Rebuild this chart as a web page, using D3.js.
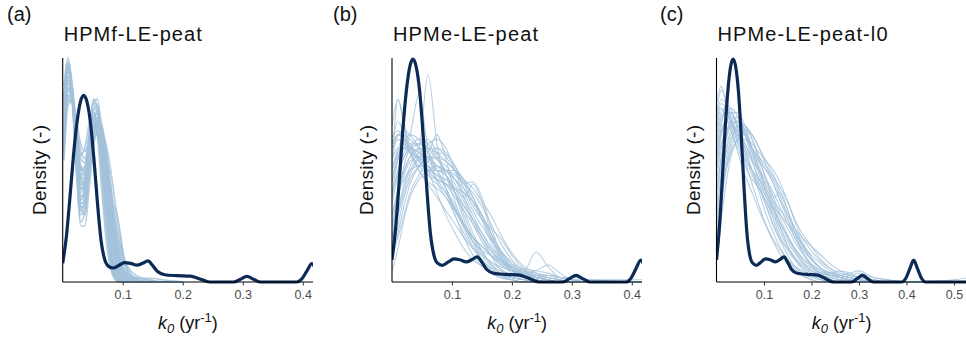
<!DOCTYPE html>
<html>
<head>
<meta charset="utf-8">
<script src="https://cdn.jsdelivr.net/npm/d3@7"></script>
<style>
  body { margin: 0; background: #fff; }
  text { font-family: "Liberation Sans", Arial, Helvetica, sans-serif; }
</style>
</head>
<body>
<div id="chart"></div>
<script>
// ---------------- data ----------------
const panelTags = ["(a)", "(b)", "(c)"];
const panelTitles = ["HPMf-LE-peat", "HPMe-LE-peat", "HPMe-LE-peat-l0"];
const xTicksAB = [0.1, 0.2, 0.3, 0.4];
const xTicksC = [0.1, 0.2, 0.3, 0.4, 0.5];

// reference density (thick dark line), same in every panel
const darkK = [0, 0.006, 0.012, 0.018, 0.024, 0.03, 0.035, 0.04, 0.046, 0.052, 0.058, 0.064, 0.07, 0.076, 0.084, 0.094, 0.103, 0.113, 0.124, 0.133, 0.142, 0.15, 0.158, 0.17, 0.19, 0.213, 0.225, 0.235, 0.245, 0.285, 0.296, 0.307, 0.318, 0.33, 0.39, 0.398, 0.407, 0.415, 0.423, 0.432, 0.44, 0.53];
const darkD = [0.1, 0.24, 0.45, 0.68, 0.86, 0.97, 1.0, 0.97, 0.86, 0.66, 0.42, 0.22, 0.12, 0.085, 0.075, 0.09, 0.104, 0.1, 0.09, 0.1, 0.113, 0.088, 0.056, 0.039, 0.034, 0.031, 0.02, 0.009, 0, 0, 0.015, 0.03, 0.015, 0, 0, 0.015, 0.06, 0.098, 0.06, 0.015, 0, 0];

// (a) light curves
const kGridA = [0.002, 0.009, 0.016, 0.023, 0.03, 0.037, 0.044, 0.051, 0.058, 0.065, 0.072, 0.079, 0.086, 0.094, 0.103, 0.113, 0.125, 0.145, 0.17, 0.2];
const lightA = [
  [0.95,1.18,1.05,0.7,0.42,0.45,0.7,0.88,0.78,0.5,0.24,0.08,0.02,0,0,0,0,0,0,0],
  [0.85,1.1,1.0,0.72,0.5,0.56,0.8,0.95,0.9,0.72,0.46,0.22,0.08,0.02,0,0,0,0,0,0],
  [1.0,1.16,0.98,0.6,0.32,0.38,0.62,0.8,0.82,0.74,0.56,0.34,0.16,0.05,0.01,0,0,0,0,0],
  [0.75,1.02,0.98,0.78,0.6,0.62,0.78,0.9,0.84,0.62,0.36,0.16,0.05,0.01,0,0,0,0,0,0],
  [0.9,1.12,1.02,0.74,0.5,0.5,0.66,0.8,0.82,0.76,0.6,0.4,0.2,0.08,0.02,0,0,0,0,0],
  [0.7,0.98,0.95,0.8,0.68,0.72,0.85,0.92,0.8,0.56,0.3,0.12,0.03,0,0,0,0,0,0,0],
  [1.05,1.2,1.0,0.62,0.36,0.4,0.66,0.86,0.88,0.76,0.54,0.3,0.12,0.03,0,0,0,0,0,0],
  [0.8,1.06,1.0,0.76,0.55,0.56,0.72,0.86,0.84,0.72,0.56,0.42,0.26,0.12,0.04,0.01,0,0,0,0],
  [0.92,1.14,1.03,0.68,0.4,0.36,0.55,0.74,0.8,0.78,0.66,0.46,0.24,0.1,0.03,0.01,0,0,0,0],
  [0.65,0.95,0.97,0.84,0.7,0.66,0.75,0.88,0.9,0.76,0.5,0.26,0.1,0.03,0,0,0,0,0,0],
  [0.98,1.15,0.96,0.58,0.3,0.3,0.5,0.72,0.8,0.78,0.64,0.44,0.22,0.08,0.02,0,0,0,0,0],
  [0.82,1.08,1.04,0.8,0.58,0.52,0.62,0.78,0.82,0.72,0.52,0.32,0.18,0.1,0.05,0.02,0.01,0,0,0],
  [0.88,1.1,0.98,0.66,0.44,0.48,0.7,0.92,0.94,0.74,0.44,0.18,0.05,0.01,0,0,0,0,0,0],
  [0.72,1.0,1.0,0.82,0.62,0.58,0.7,0.84,0.84,0.74,0.6,0.45,0.3,0.16,0.06,0.02,0.01,0,0,0],
  [1.0,1.17,1.0,0.64,0.38,0.44,0.72,0.96,0.94,0.7,0.38,0.14,0.03,0,0,0,0,0,0,0],
  [0.86,1.1,1.0,0.7,0.46,0.46,0.62,0.8,0.86,0.82,0.66,0.44,0.24,0.09,0.02,0,0,0,0,0],
  [0.78,1.04,0.99,0.77,0.56,0.6,0.76,0.86,0.8,0.66,0.5,0.38,0.28,0.18,0.09,0.04,0.02,0.01,0,0],
  [0.94,1.13,1.01,0.7,0.46,0.5,0.74,0.96,0.98,0.8,0.5,0.22,0.07,0.01,0,0,0,0,0,0],
  [0.68,0.97,0.98,0.86,0.74,0.7,0.76,0.82,0.78,0.66,0.52,0.36,0.22,0.12,0.06,0.03,0.02,0.02,0.01,0],
  [0.9,1.12,1.0,0.66,0.4,0.42,0.64,0.84,0.88,0.8,0.6,0.36,0.16,0.05,0.01,0,0,0,0,0],
  [0.96,1.16,1.02,0.68,0.44,0.5,0.72,0.9,0.86,0.66,0.42,0.2,0.07,0.02,0,0,0,0,0,0],
  [0.84,1.08,1.0,0.74,0.52,0.54,0.7,0.84,0.84,0.72,0.5,0.36,0.4,0.3,0.1,0.02,0,0,0,0],
  [0.76,1.03,1.0,0.8,0.6,0.6,0.74,0.88,0.9,0.8,0.62,0.42,0.22,0.08,0.02,0,0,0,0,0],
  [0.98,1.17,1.02,0.66,0.4,0.42,0.64,0.86,0.92,0.84,0.64,0.38,0.16,0.04,0,0,0,0,0,0],
  [0.88,1.1,1.0,0.72,0.5,0.52,0.68,0.82,0.84,0.78,0.66,0.5,0.32,0.14,0.04,0.01,0,0,0,0],
  [0.7,0.99,0.97,0.82,0.66,0.64,0.74,0.86,0.86,0.76,0.58,0.36,0.16,0.05,0.01,0,0,0,0,0],
  [0.92,1.14,1.02,0.7,0.48,0.54,0.78,0.98,0.94,0.7,0.4,0.16,0.04,0.01,0,0,0,0,0,0],
  [0.8,1.06,1.0,0.76,0.54,0.52,0.64,0.78,0.84,0.82,0.7,0.5,0.28,0.1,0.03,0.01,0,0,0,0],
  [0.86,1.08,0.98,0.72,0.5,0.5,0.62,0.76,0.8,0.8,0.74,0.62,0.46,0.28,0.12,0.04,0.01,0,0,0],
  [0.74,1.0,0.98,0.8,0.62,0.6,0.7,0.8,0.82,0.78,0.68,0.54,0.38,0.22,0.1,0.04,0.01,0,0,0],
  [0.94,1.14,1.0,0.66,0.42,0.44,0.62,0.8,0.86,0.84,0.72,0.54,0.34,0.16,0.05,0.01,0,0,0,0],
  [0.8,1.04,0.98,0.76,0.58,0.58,0.7,0.82,0.8,0.7,0.58,0.46,0.34,0.22,0.12,0.06,0.03,0.01,0,0]
];

// (b) light curves
const kGridB = [0, 0.01, 0.02, 0.03, 0.045, 0.06, 0.075, 0.09, 0.105, 0.12, 0.135, 0.15, 0.165, 0.18, 0.2, 0.22, 0.24, 0.26, 0.28, 0.3, 0.33, 0.36, 0.4, 0.417];
const lightB = [
  [0.55,0.66,0.68,0.66,0.6,0.5,0.4,0.3,0.22,0.15,0.1,0.07,0.05,0.03,0.02,0.01,0,0,0,0,0,0,0,0],
  [0.4,0.55,0.63,0.66,0.64,0.58,0.5,0.42,0.33,0.24,0.16,0.1,0.06,0.03,0.01,0,0,0,0,0,0,0,0,0],
  [0.7,0.82,0.72,0.6,0.5,0.45,0.42,0.38,0.3,0.2,0.12,0.07,0.04,0.02,0.01,0,0,0,0,0,0,0,0,0],
  [0.2,0.38,0.52,0.6,0.64,0.62,0.56,0.48,0.4,0.34,0.28,0.2,0.12,0.06,0.02,0.01,0,0,0,0,0,0,0,0],
  [0.25,0.4,0.5,0.56,0.6,0.93,0.62,0.42,0.3,0.22,0.15,0.1,0.06,0.03,0.01,0,0,0,0,0,0,0,0,0],
  [0.5,0.82,0.7,0.6,0.62,0.64,0.58,0.48,0.36,0.26,0.18,0.12,0.07,0.04,0.02,0.01,0,0,0,0,0,0,0,0],
  [0.45,0.55,0.6,0.66,0.84,0.6,0.45,0.38,0.32,0.26,0.2,0.14,0.08,0.04,0.02,0.01,0,0,0,0,0,0,0,0],
  [0.1,0.25,0.38,0.46,0.52,0.56,0.6,0.58,0.52,0.44,0.45,0.38,0.25,0.14,0.06,0.02,0.01,0,0,0,0,0,0,0],
  [0.6,0.64,0.62,0.58,0.56,0.58,0.66,0.55,0.4,0.28,0.18,0.1,0.05,0.02,0.01,0,0,0,0,0,0,0,0,0],
  [0.35,0.48,0.56,0.6,0.58,0.52,0.48,0.46,0.42,0.38,0.44,0.36,0.22,0.12,0.05,0.02,0.01,0,0,0,0,0,0,0],
  [0.15,0.3,0.42,0.5,0.55,0.55,0.52,0.5,0.46,0.4,0.32,0.25,0.19,0.14,0.09,0.05,0.03,0.02,0.01,0,0,0,0,0],
  [0.5,0.6,0.64,0.62,0.55,0.48,0.44,0.4,0.33,0.25,0.18,0.14,0.12,0.1,0.07,0.05,0.135,0.07,0.02,0.01,0,0,0,0],
  [0.45,0.58,0.62,0.6,0.54,0.5,0.5,0.48,0.4,0.3,0.2,0.13,0.09,0.07,0.05,0.04,0.05,0.076,0.04,0.01,0,0,0,0],
  [0.05,0.15,0.28,0.38,0.46,0.5,0.52,0.5,0.46,0.42,0.36,0.3,0.22,0.15,0.08,0.04,0.02,0.01,0,0,0,0,0,0],
  [0.62,0.72,0.66,0.58,0.5,0.44,0.38,0.32,0.26,0.2,0.15,0.12,0.09,0.06,0.03,0.02,0.01,0,0,0,0,0,0,0],
  [0.3,0.42,0.5,0.56,0.6,0.6,0.58,0.54,0.5,0.44,0.36,0.28,0.2,0.13,0.07,0.04,0.02,0.01,0,0,0,0,0,0],
  [0.4,0.5,0.56,0.6,0.62,0.6,0.55,0.5,0.44,0.36,0.26,0.18,0.12,0.09,0.06,0.04,0.03,0.03,0.02,0.01,0.01,0.005,0,0],
  [0.25,0.38,0.48,0.54,0.56,0.54,0.5,0.48,0.42,0.34,0.28,0.22,0.16,0.11,0.07,0.05,0.04,0.03,0.02,0.02,0.01,0.01,0.01,0.01],
  [0.55,0.6,0.6,0.58,0.56,0.52,0.46,0.4,0.32,0.25,0.2,0.16,0.12,0.08,0.05,0.03,0.02,0.01,0,0,0,0,0,0],
  [0.2,0.32,0.44,0.52,0.58,0.62,0.64,0.6,0.5,0.38,0.28,0.2,0.14,0.1,0.06,0.03,0.01,0,0,0,0,0,0,0],
  [0.65,0.68,0.64,0.58,0.52,0.48,0.46,0.44,0.4,0.32,0.22,0.14,0.08,0.05,0.03,0.02,0.01,0,0,0,0,0,0,0],
  [0.1,0.2,0.3,0.4,0.48,0.54,0.58,0.57,0.52,0.45,0.38,0.3,0.2,0.12,0.06,0.03,0.02,0.01,0,0,0,0,0,0],
  [0.3,0.4,0.46,0.5,0.52,0.52,0.5,0.5,0.48,0.44,0.4,0.34,0.26,0.18,0.1,0.05,0.02,0.01,0,0,0,0,0,0],
  [0.5,0.58,0.6,0.6,0.58,0.56,0.55,0.52,0.46,0.38,0.3,0.22,0.15,0.1,0.05,0.02,0.01,0,0,0,0,0,0,0],
  [0.2,0.3,0.4,0.48,0.56,0.6,0.6,0.56,0.5,0.42,0.34,0.28,0.24,0.2,0.12,0.06,0.03,0.01,0,0,0,0,0,0],
  [0.6,0.66,0.66,0.64,0.6,0.56,0.5,0.44,0.38,0.32,0.26,0.2,0.14,0.09,0.05,0.03,0.02,0.01,0,0,0,0,0,0],
  [0.38,0.5,0.58,0.62,0.62,0.58,0.52,0.5,0.5,0.46,0.38,0.28,0.18,0.11,0.06,0.04,0.03,0.02,0.01,0,0,0,0,0],
  [0.12,0.22,0.34,0.44,0.52,0.56,0.56,0.54,0.5,0.46,0.42,0.36,0.3,0.22,0.13,0.07,0.04,0.02,0.01,0,0,0,0,0],
  [0.45,0.56,0.6,0.6,0.56,0.5,0.46,0.44,0.42,0.4,0.36,0.3,0.22,0.14,0.08,0.06,0.05,0.04,0.02,0.01,0,0,0,0],
  [0.62,0.66,0.64,0.6,0.54,0.5,0.48,0.42,0.34,0.26,0.2,0.16,0.12,0.08,0.04,0.02,0.01,0,0,0,0,0,0,0]
];

// (c) light curves
const kGridC = [0, 0.01, 0.02, 0.03, 0.045, 0.06, 0.075, 0.09, 0.105, 0.12, 0.135, 0.15, 0.165, 0.18, 0.2, 0.22, 0.24, 0.26, 0.28, 0.3, 0.33, 0.36, 0.4, 0.45, 0.5, 0.53];
const lightC = [
  [0.75,0.86,0.82,0.74,0.64,0.54,0.44,0.34,0.25,0.18,0.12,0.08,0.05,0.03,0.01,0,0,0,0,0,0,0,0,0,0,0],
  [0.6,0.72,0.76,0.76,0.7,0.6,0.5,0.4,0.3,0.22,0.15,0.1,0.06,0.03,0.01,0,0,0,0,0,0,0,0,0,0,0],
  [0.5,0.66,0.74,0.78,0.74,0.66,0.55,0.44,0.34,0.25,0.18,0.12,0.07,0.04,0.02,0.01,0,0,0,0,0,0,0,0,0,0],
  [0.3,0.48,0.6,0.68,0.72,0.68,0.6,0.5,0.4,0.33,0.26,0.2,0.14,0.09,0.05,0.02,0.01,0,0,0,0,0,0,0,0,0],
  [0.7,0.8,0.78,0.72,0.62,0.55,0.5,0.46,0.4,0.32,0.24,0.16,0.1,0.06,0.03,0.01,0,0,0,0,0,0,0,0,0,0],
  [0.15,0.35,0.52,0.62,0.7,0.7,0.64,0.55,0.46,0.38,0.4,0.32,0.22,0.14,0.07,0.03,0.01,0,0,0,0,0,0,0,0,0],
  [0.55,0.7,0.8,0.78,0.68,0.58,0.5,0.44,0.38,0.32,0.26,0.2,0.15,0.11,0.07,0.04,0.02,0.01,0,0,0,0,0,0,0,0],
  [0.4,0.55,0.64,0.7,0.72,0.7,0.64,0.56,0.5,0.44,0.36,0.28,0.2,0.14,0.08,0.05,0.03,0.02,0.01,0,0,0,0,0,0,0],
  [0.8,0.88,0.8,0.7,0.58,0.48,0.4,0.32,0.25,0.19,0.14,0.1,0.07,0.05,0.03,0.02,0.01,0,0,0,0,0,0,0,0,0],
  [0.25,0.42,0.55,0.64,0.68,0.66,0.6,0.54,0.5,0.46,0.38,0.3,0.24,0.18,0.11,0.06,0.03,0.02,0.01,0,0,0,0,0,0,0],
  [0.62,0.74,0.76,0.72,0.64,0.56,0.48,0.42,0.36,0.28,0.2,0.15,0.11,0.08,0.05,0.04,0.04,0.05,0.04,0.02,0.01,0,0,0,0,0],
  [0.45,0.6,0.7,0.76,0.76,0.7,0.6,0.52,0.42,0.34,0.26,0.2,0.15,0.11,0.07,0.04,0.03,0.02,0.03,0.04,0.02,0.01,0,0,0,0],
  [0.2,0.38,0.5,0.58,0.64,0.64,0.6,0.56,0.52,0.47,0.42,0.36,0.28,0.22,0.16,0.1,0.06,0.03,0.02,0.01,0,0,0,0,0,0],
  [0.68,0.78,0.74,0.68,0.6,0.52,0.46,0.42,0.36,0.3,0.24,0.18,0.13,0.09,0.05,0.03,0.02,0.01,0.01,0.01,0.005,0.003,0.002,0.003,0.01,0.02],
  [0.5,0.62,0.68,0.7,0.68,0.62,0.56,0.5,0.46,0.4,0.33,0.26,0.2,0.15,0.1,0.06,0.04,0.03,0.02,0.01,0,0,0,0,0,0],
  [0.35,0.52,0.64,0.72,0.74,0.68,0.58,0.48,0.4,0.34,0.3,0.26,0.22,0.17,0.12,0.08,0.05,0.03,0.02,0.01,0,0,0,0,0,0],
  [0.1,0.28,0.44,0.56,0.64,0.68,0.66,0.6,0.52,0.44,0.36,0.3,0.24,0.2,0.16,0.12,0.08,0.05,0.03,0.02,0.01,0,0,0,0,0],
  [0.58,0.68,0.72,0.72,0.66,0.6,0.54,0.5,0.44,0.36,0.28,0.21,0.15,0.1,0.06,0.04,0.03,0.03,0.04,0.05,0.02,0.01,0,0,0,0],
  [0.65,0.76,0.78,0.76,0.7,0.62,0.54,0.46,0.38,0.3,0.22,0.16,0.11,0.07,0.04,0.02,0.01,0,0,0,0,0,0,0,0,0],
  [0.4,0.56,0.66,0.72,0.72,0.66,0.6,0.54,0.46,0.38,0.3,0.24,0.18,0.13,0.08,0.05,0.03,0.02,0.01,0,0,0,0,0,0,0],
  [0.72,0.82,0.8,0.74,0.66,0.58,0.5,0.42,0.34,0.26,0.19,0.14,0.1,0.07,0.04,0.02,0.01,0,0,0,0,0,0,0,0,0],
  [0.3,0.46,0.58,0.66,0.7,0.7,0.66,0.6,0.54,0.48,0.4,0.32,0.24,0.17,0.1,0.06,0.04,0.03,0.02,0.01,0,0,0,0,0,0],
  [0.55,0.66,0.72,0.74,0.72,0.66,0.58,0.5,0.42,0.36,0.32,0.28,0.22,0.16,0.1,0.06,0.04,0.02,0.01,0,0,0,0,0,0,0],
  [0.2,0.36,0.5,0.6,0.66,0.66,0.62,0.58,0.54,0.5,0.44,0.36,0.27,0.2,0.14,0.09,0.06,0.04,0.03,0.02,0.01,0,0,0,0,0]
];

// ---------------- layout ----------------
const W = 966, H = 342;
const plotTop = 58, plotBottom = 282;
const panels = [
  { x0: 62.7, x1: 313,   xMax: 0.417, yMax: 1.2,   kGrid: kGridA, light: lightA, ticks: xTicksAB, tagX: 7,   yLabX: 46,  lw: 1.7 },
  { x0: 392,  x1: 642,   xMax: 0.417, yMax: 1.005, kGrid: kGridB, light: lightB, ticks: xTicksAB, tagX: 333, yLabX: 373, lw: 1.05 },
  { x0: 716.5,x1: 968.3, xMax: 0.53,  yMax: 1.005, kGrid: kGridC, light: lightC, ticks: xTicksC,  tagX: 660, yLabX: 700, lw: 1.05 }
];
const titleWidths = [138, 145, 170];

const svg = d3.select("#chart").append("svg")
    .attr("width", W)
    .attr("height", H);

panels.forEach(function(p, i){
  const x = d3.scaleLinear().domain([0, p.xMax]).range([p.x0, p.x1]);
  const y = d3.scaleLinear().domain([0, p.yMax]).range([plotBottom, plotTop]);

  const clipId = "clip" + i;
  svg.append("clipPath").attr("id", clipId)
    .append("rect")
      .attr("x", p.x0).attr("y", plotTop - 4)
      .attr("width", p.x1 - p.x0).attr("height", plotBottom - plotTop + 6);

  const g = svg.append("g");
  const plot = g.append("g").attr("clip-path", "url(#" + clipId + ")");

  const line = d3.line()
      .x(d => x(d[0]))
      .y(d => y(d[1]))
      .curve(d3.curveMonotoneX);

  // simulated densities (thin, light blue)
  plot.selectAll(".light")
    .data(p.light)
    .enter().append("path")
      .attr("class", "light")
      .attr("d", vals => line(vals.map((v, j) => [p.kGrid[j], v])))
      .attr("fill", "none")
      .attr("stroke", "#a3c2db")
      .attr("stroke-opacity", 0.8)
      .attr("stroke-width", p.lw);

  // x axis
  const xAxis = g.append("g")
      .attr("transform", "translate(0," + plotBottom + ")")
      .call(d3.axisBottom(x).tickValues(p.ticks).tickFormat(d3.format(".1f")).tickSize(3.5).tickPadding(5));
  xAxis.select(".domain").attr("stroke", "#000").attr("stroke-width", 1.1)
      .attr("d", "M" + p.x0 + ",0H" + p.x1);
  xAxis.selectAll(".tick line").attr("stroke", "#333");
  xAxis.selectAll(".tick text")
      .attr("fill", "#4d4d4d")
      .style("font-size", "12.5px");

  // y axis: bare line, no ticks
  g.append("line")
      .attr("x1", p.x0).attr("x2", p.x0)
      .attr("y1", plotTop).attr("y2", plotBottom)
      .attr("stroke", "#000").attr("stroke-width", 1.1);

  // observed density (thick, dark)
  plot.append("path")
      .datum(darkK.map((k, j) => [k, darkD[j]]))
      .attr("d", line)
      .attr("fill", "none")
      .attr("stroke", "#0b2a55")
      .attr("stroke-width", 3.2)
      .attr("stroke-linejoin", "round");

  // panel tag
  g.append("text")
      .attr("x", p.tagX).attr("y", 21)
      .style("font-size", "20px")
      .attr("fill", "#111")
      .text(panelTags[i]);

  // panel title
  g.append("text")
      .attr("x", p.x0 + 1).attr("y", 41)
      .style("font-size", "20px")
      .attr("textLength", titleWidths[i])
      .attr("lengthAdjust", "spacing")
      .attr("fill", "#111")
      .text(panelTitles[i]);

  // y label
  g.append("text")
      .attr("transform", "translate(" + p.yLabX + "," + ((plotTop + plotBottom) / 2) + ") rotate(-90)")
      .attr("text-anchor", "middle")
      .style("font-size", "19px")
      .attr("textLength", 90)
      .attr("lengthAdjust", "spacing")
      .attr("fill", "#111")
      .text("Density (-)");

  // x label: k0 (yr-1), centred on the visible 0-0.417 width
  const cx = p.x0 + (313 - 62.7) / 2;
  const xl = g.append("text")
      .attr("x", cx).attr("y", 329)
      .attr("text-anchor", "middle")
      .style("font-size", "18px")
      .attr("fill", "#111");
  xl.append("tspan").style("font-style", "italic").text("k");
  xl.append("tspan").style("font-style", "italic").style("font-size", "13px").attr("dy", 4).text("0");
  xl.append("tspan").attr("dy", -4).text(" (yr");
  xl.append("tspan").style("font-size", "13px").attr("dy", -7).text("-1");
  xl.append("tspan").attr("dy", 7).text(")");
});
</script>
</body>
</html>
